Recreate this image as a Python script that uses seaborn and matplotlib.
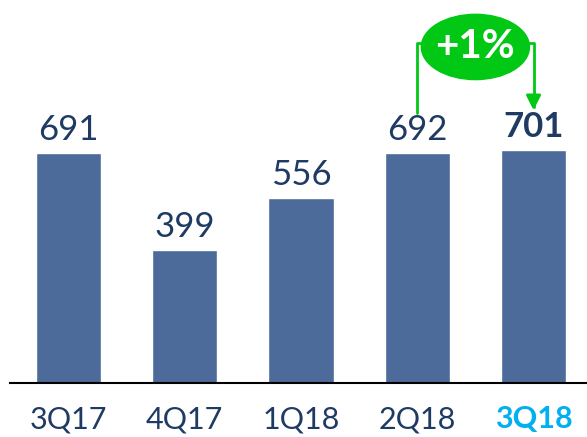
import matplotlib
matplotlib.use("Agg")
import matplotlib.pyplot as plt
import seaborn as sns
import pandas as pd
from matplotlib.patches import Ellipse

quarters = ["3Q17", "4Q17", "1Q18", "2Q18", "3Q18"]
values = [691, 399, 556, 692, 701]
growth_label = "+1%"

bar_color = "#4D6B9A"
text_color = "#1F3B63"
highlight_color = "#00B0F0"
green = "#00C814"

sns.set_theme(style="white")
plt.rcParams["font.family"] = ["Lato", "DejaVu Sans"]

df = pd.DataFrame({"quarter": quarters, "value": values})

fig = plt.figure(figsize=(5.87, 4.37), dpi=100)
ax = fig.add_axes([10 / 587, 1 - 383 / 437, 577 / 587, 383 / 437])

sns.barplot(data=df, x="quarter", y="value", color=bar_color, width=0.56,
            saturation=1, ax=ax)

ax.set_xlim(-0.503, 4.46)
ax.set_ylim(0, 1150)

labels = ax.bar_label(ax.containers[0], labels=[str(v) for v in values],
                      padding=5, fontsize=25, color=text_color)
labels[-1].set_fontweight("bold")

for s in ["top", "left", "right"]:
    ax.spines[s].set_visible(False)
ax.spines["bottom"].set_color("black")
ax.spines["bottom"].set_linewidth(1.5)
ax.set_yticks([])
ax.set_xlabel("")
ax.set_ylabel("")
ax.tick_params(axis="x", length=0, pad=16, labelsize=22, labelcolor=text_color)
ticks = ax.get_xticklabels()
ticks[-1].set_color(highlight_color)
ticks[-1].set_fontweight("bold")

# growth bubble between the last two bars
x0, x1 = 3, 4
ex, ey = (x0 + x1) / 2, 1009
ew, eh = 0.93, 196
line_y = 1020
ax.plot([x0, x0, ex - ew / 2], [values[x0] + 118, line_y, line_y],
        color=green, lw=2, clip_on=False)
ax.annotate("", xy=(x1, values[x1] + 118), xytext=(ex + ew / 2, line_y),
            arrowprops=dict(arrowstyle="-|>", color=green, lw=2,
                            mutation_scale=22, shrinkA=0, shrinkB=0,
                            connectionstyle="angle,angleA=0,angleB=90,rad=0"))
ax.add_patch(Ellipse((ex, ey), ew, eh, color=green, zorder=5, clip_on=False))
ax.text(ex, ey, growth_label, ha="center", va="center", fontsize=29,
        fontweight="bold", color="white", zorder=6)

fig.savefig("out.png", dpi=100)
